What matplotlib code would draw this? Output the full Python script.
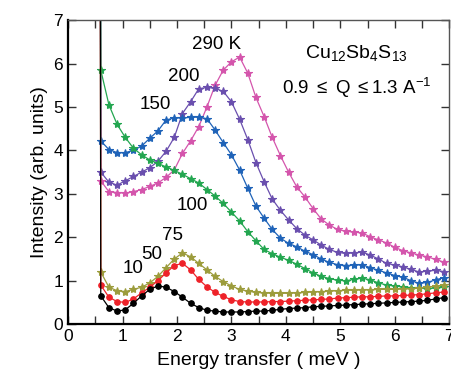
import numpy as np
import matplotlib
matplotlib.use("Agg")
import matplotlib.pyplot as plt
from matplotlib.ticker import MultipleLocator

plt.rcParams['font.family'] = ['Liberation Sans', 'DejaVu Sans']
plt.rcParams['mathtext.fontset'] = 'custom'
plt.rcParams['mathtext.rm'] = 'Liberation Sans'
plt.rcParams['mathtext.it'] = 'Liberation Sans:italic'

# energy transfer (meV)
energy = [0.60, 0.75, 0.90, 1.05, 1.20, 1.35, 1.50, 1.65, 1.80, 1.95, 2.10, 2.25,
          2.40, 2.55, 2.70, 2.85, 3.00, 3.15, 3.30, 3.45, 3.60, 3.75, 3.90, 4.05,
          4.20, 4.35, 4.50, 4.65, 4.80, 4.95, 5.10, 5.25, 5.40, 5.55, 5.70, 5.85,
          6.00, 6.15, 6.30, 6.45, 6.60, 6.75, 6.90]
elastic_x = 0.57
elastic_y = 30.0

i_10K = [0.65, 0.38, 0.30, 0.33, 0.48, 0.65, 0.80, 0.88, 0.85, 0.75, 0.62, 0.48,
         0.38, 0.32, 0.30, 0.28, 0.28, 0.28, 0.29, 0.30, 0.30, 0.32, 0.34, 0.36,
         0.37, 0.38, 0.40, 0.41, 0.42, 0.43, 0.44, 0.45, 0.46, 0.47, 0.48, 0.49,
         0.50, 0.51, 0.52, 0.53, 0.55, 0.58, 0.61]
i_50K = [0.90, 0.62, 0.52, 0.50, 0.58, 0.72, 0.85, 1.00, 1.18, 1.35, 1.40, 1.25,
         1.03, 0.86, 0.73, 0.64, 0.56, 0.52, 0.51, 0.51, 0.51, 0.52, 0.52, 0.53,
         0.54, 0.55, 0.56, 0.57, 0.58, 0.60, 0.61, 0.62, 0.63, 0.63, 0.64, 0.65,
         0.65, 0.66, 0.67, 0.68, 0.70, 0.72, 0.74]
i_75K = [1.20, 0.85, 0.77, 0.75, 0.80, 0.85, 0.95, 1.10, 1.30, 1.50, 1.64, 1.55,
         1.40, 1.25, 1.10, 0.98, 0.88, 0.80, 0.76, 0.73, 0.72, 0.71, 0.71, 0.71,
         0.72, 0.73, 0.74, 0.75, 0.76, 0.77, 0.78, 0.78, 0.79, 0.79, 0.80, 0.80,
         0.80, 0.81, 0.82, 0.83, 0.85, 0.87, 0.90]
i_100K = [5.85, 5.05, 4.60, 4.30, 4.05, 3.90, 3.78, 3.70, 3.62, 3.54, 3.45, 3.35,
          3.25, 3.10, 2.95, 2.78, 2.58, 2.38, 2.13, 1.92, 1.72, 1.62, 1.54, 1.47,
          1.38, 1.28, 1.18, 1.10, 1.05, 1.01, 1.00, 1.03, 1.06, 1.02, 0.95, 0.90,
          0.88, 0.86, 0.84, 0.83, 0.82, 0.83, 0.85]
i_150K = [4.22, 4.02, 3.95, 3.95, 4.00, 4.10, 4.28, 4.45, 4.70, 4.75, 4.75, 4.76,
          4.77, 4.73, 4.47, 4.18, 3.90, 3.55, 3.13, 2.72, 2.44, 2.18, 1.98, 1.86,
          1.78, 1.68, 1.60, 1.50, 1.42, 1.37, 1.35, 1.36, 1.37, 1.30, 1.24, 1.18,
          1.12, 1.08, 1.00, 0.94, 0.96, 1.02, 1.07]
i_200K = [3.50, 3.27, 3.20, 3.30, 3.40, 3.50, 3.60, 3.75, 3.98, 4.30, 4.85, 5.12,
          5.42, 5.45, 5.43, 5.36, 5.12, 4.72, 4.25, 3.72, 3.28, 2.88, 2.62, 2.40,
          2.20, 2.05, 1.94, 1.82, 1.72, 1.65, 1.63, 1.64, 1.66, 1.59, 1.50, 1.40,
          1.36, 1.32, 1.26, 1.20, 1.22, 1.24, 1.21]
i_290K = [3.30, 3.05, 3.03, 3.02, 3.05, 3.10, 3.17, 3.25, 3.38, 3.55, 3.93, 4.22,
          4.55, 5.00, 5.50, 5.85, 6.04, 6.15, 5.78, 5.22, 4.78, 4.30, 3.88, 3.50,
          3.16, 2.93, 2.66, 2.42, 2.28, 2.18, 2.14, 2.12, 2.10, 2.01, 1.94, 1.87,
          1.77, 1.69, 1.64, 1.59, 1.55, 1.49, 1.43]

series = [
    (i_290K, '#d455ac', '*', 6),
    (i_200K, '#6a4fae', '*', 6),
    (i_150K, '#1f63b8', '*', 6),
    (i_100K, '#23a650', '*', 6),
    (i_75K, '#9c9c3c', '*', 6),
    (i_50K, '#ee2229', 'o', 4),
    (i_10K, '#000000', 'o', 4),
]

fig = plt.figure(figsize=(4.51, 3.80), dpi=100)
ax = fig.add_axes([0.151, 0.147, 0.845, 0.80])

for vals, col, mk, ms in series:
    ax.plot([elastic_x] + energy, [elastic_y] + vals, '-', color=col, lw=0.9)
    ax.plot(energy, vals, linestyle='none', marker=mk, color=col, ms=ms,
            mec=col, mew=0.8)

ax.set_xlim(0, 7)
ax.set_ylim(0, 7)
ax.xaxis.set_major_locator(MultipleLocator(1))
ax.xaxis.set_minor_locator(MultipleLocator(0.5))
ax.yaxis.set_major_locator(MultipleLocator(1))
ax.tick_params(which='both', direction='in', top=True, right=True,
               labelsize=12.5, color='#333333')
ax.tick_params(which='major', length=6, width=1)
ax.tick_params(which='minor', length=6, width=1)
for side in ['left', 'bottom']:
    ax.spines[side].set_linewidth(1.6)
    ax.spines[side].set_color('black')
for side in ['top', 'right']:
    ax.spines[side].set_linewidth(1.0)
    ax.spines[side].set_color('#555555')

ax.set_xlabel('Energy transfer ( meV )', fontsize=14, labelpad=6)
ax.set_ylabel('Intensity (arb. units)', fontsize=14, labelpad=4)

labels = [('290 K', 2.72, 6.43), ('200', 2.12, 5.70), ('150', 1.61, 5.05),
          ('100', 2.28, 2.74), ('75', 1.92, 2.03), ('50', 1.53, 1.61),
          ('10', 1.20, 1.27)]
for txt, x, y in labels:
    ax.text(x, y, txt, fontsize=13.5, ha='center', va='center')

ax.text(5.3, 6.24, r'Cu$_{12}$Sb$_{4}$S$_{13}$', fontsize=14, ha='center', va='center')
ax.text(5.3, 5.43, r'0.9 $\leq$ Q $\leq$1.3 A$^{-1}$', fontsize=13.5,
        ha='center', va='center')

fig.savefig('out.png', dpi=100)
